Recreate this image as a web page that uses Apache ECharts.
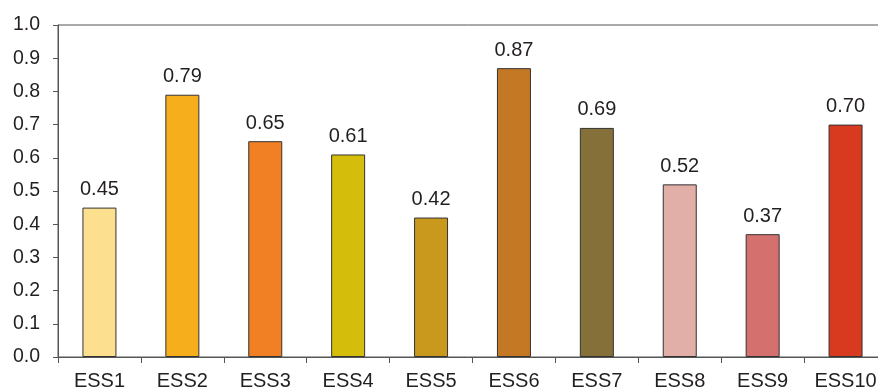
<!DOCTYPE html>
<html>
<head>
<meta charset="utf-8">
<script src="https://cdn.jsdelivr.net/npm/echarts@6/dist/echarts.min.js"></script>
<style>html,body{margin:0;padding:0;background:#fff;}#c{width:878px;height:390px;}</style>
</head>
<body>
<div id="c"></div>
<script>
const categories = ['ESS1','ESS2','ESS3','ESS4','ESS5','ESS6','ESS7','ESS8','ESS9','ESS10'];
const values = [0.45, 0.79, 0.65, 0.61, 0.42, 0.87, 0.69, 0.52, 0.37, 0.70];
const colors = ['#FDE08F','#F7AE1D','#F08023','#D4BE0B','#C9991E','#C57823','#86703A','#E2AEA8','#D4716E','#D73A1F'];

const chart = echarts.init(document.getElementById('c'));
const font = '"Liberation Sans", Arial, sans-serif';
chart.setOption({
  animation: false,
  grid: { left: 58, width: 829, top: 25, height: 332, outerBoundsMode: 'none', containLabel: false,
    show: true, borderColor: '#555', borderWidth: 1 },
  xAxis: {
    type: 'category',
    data: categories,
    axisLine: { lineStyle: { color: '#555', width: 1 } },
    axisTick: { show: true, length: 6, lineStyle: { color: '#555' } },
    axisLabel: { color: '#231f20', fontSize: 20, fontFamily: font, margin: 14, hideOverlap: false }
  },
  yAxis: {
    type: 'value',
    min: 0, max: 1, interval: 0.1,
    splitLine: { show: false },
    axisLine: { show: true, lineStyle: { color: '#555', width: 1 } },
    axisTick: { show: true, length: 5, lineStyle: { color: '#555' } },
    axisLabel: { color: '#231f20', fontSize: 19.5, fontFamily: font, margin: 18,
      formatter: v => v.toFixed(1) }
  },
  series: [{
    type: 'bar',
    barWidth: 34,
    data: values.map((v, i) => ({ value: v, itemStyle: { color: colors[i] } })),
    itemStyle: { borderColor: '#333', borderWidth: 1 },
    label: { show: true, position: 'top', distance: 8, color: '#231f20', fontSize: 20, fontFamily: font,
      formatter: p => p.value.toFixed(2) }
  }]
});
</script>
</body>
</html>
